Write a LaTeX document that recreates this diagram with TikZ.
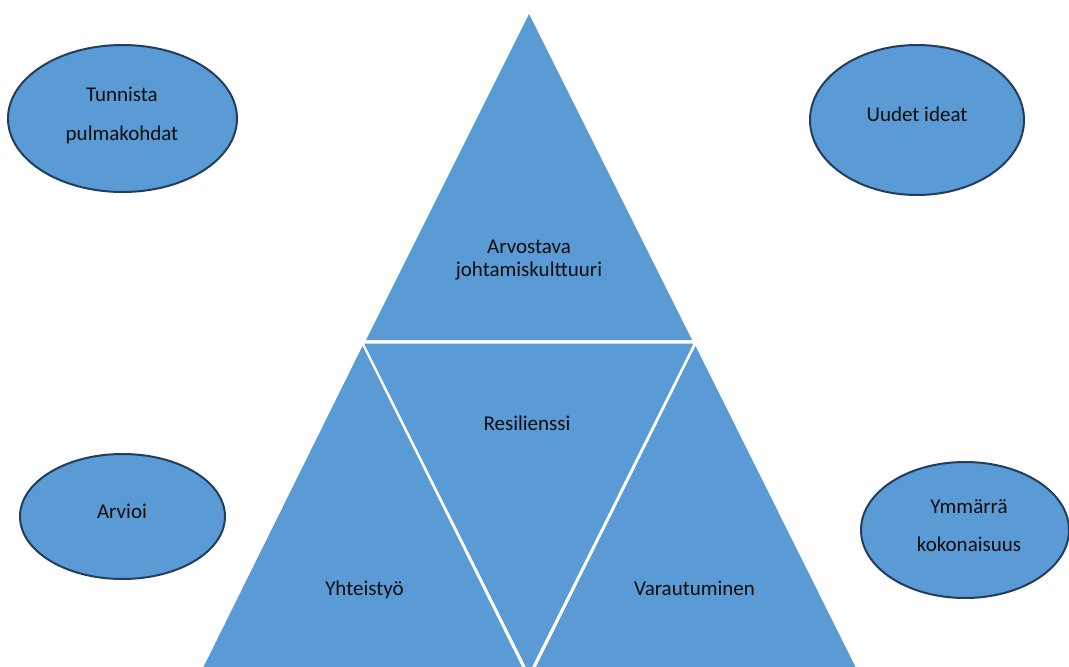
\documentclass[tikz,border=0pt]{standalone}
\usepackage{fontspec}
\setmainfont{Carlito}
\usetikzlibrary{shapes.geometric}
\definecolor{fillblue}{HTML}{5B9BD5}
\definecolor{rimblue}{HTML}{223E5C}
\definecolor{inktext}{HTML}{0D0D0D}
\tikzset{
  tri/.style={fill=fillblue, draw=none},
  oval/.style={ellipse, fill=fillblue, draw=rimblue, line width=2pt, inner sep=0pt},
  txt/.style={font=\fontsize{21}{25}\selectfont, text=inktext, inner sep=0pt, anchor=base, align=center}
}
\begin{document}
\begin{tikzpicture}[x=1pt,y=-1pt]
\useasboundingbox (0,0) rectangle (1069,667);
\clip (0,0) rectangle (1069,667);
% triangle vertices
\coordinate (tA) at (529,14);
\coordinate (tL) at (366,340);
\coordinate (tR) at (692,340);
\coordinate (mL) at (364,343.5);
\coordinate (mR) at (693.5,343.5);
\coordinate (mB) at (529,673);
\coordinate (lA) at (362.5,346);
\coordinate (lL) at (201,672);
\coordinate (lR) at (524.5,672);
\coordinate (rA) at (695.5,346);
\coordinate (rL) at (533.5,672);
\coordinate (rR) at (858,672);
\fill[tri] (tA) -- (tL) -- (tR) -- cycle;
\fill[tri] (mL) -- (mR) -- (mB) -- cycle;
\fill[tri] (lA) -- (lL) -- (lR) -- cycle;
\fill[tri] (rA) -- (rL) -- (rR) -- cycle;
% triangle labels
\node[txt] (t1) at (529,253) {Arvostava};
\node[txt] (t2) at (529,276) {johtamiskulttuuri};
\node[txt] (t3) at (527,430) {Resilienssi};
\node[txt] (t4) at (364.5,595) {Yhteistyö};
\node[txt] (t5) at (694.5,595) {Varautuminen};
% ellipses
\node[oval, minimum width=229pt, minimum height=147pt] (e1) at (122.5,118.5) {};
\node[oval, minimum width=214pt, minimum height=150pt] (e2) at (917,120) {};
\node[oval, minimum width=205pt, minimum height=125pt] (e3) at (122.5,516.5) {};
\node[oval, minimum width=208pt, minimum height=136pt] (e4) at (965,530) {};
\node[txt] (l1a) at (122,101.7) {Tunnista};
\node[txt] (l1b) at (122,140) {pulmakohdat};
\node[txt] (l2) at (917,121.7) {Uudet ideat};
\node[txt] (l3) at (122,518) {Arvioi};
\node[txt] (l4a) at (969,513.3) {Ymmärrä};
\node[txt] (l4b) at (969,551.7) {kokonaisuus};
\end{tikzpicture}
\end{document}
